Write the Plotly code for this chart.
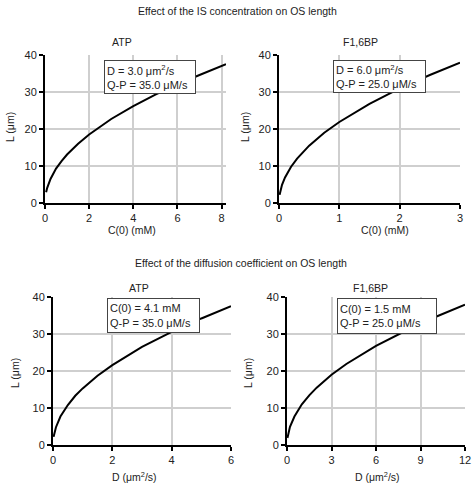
import plotly.graph_objects as go

W, H = 475, 486

# values
atp_c = [0.05, 0.1, 0.25, 0.5, 0.75, 1, 1.5, 2, 3, 4, 5, 6, 7, 8.2]
atp_c_len = [2.9, 4.1, 6.5, 9.3, 11.3, 13.1, 16.0, 18.5, 22.7, 26.2, 29.3, 32.1, 34.6, 37.5]

f16_c = [0.01, 0.02, 0.05, 0.1, 0.2, 0.3, 0.5, 0.75, 1, 1.5, 2, 2.5, 3]
f16_c_len = [2.2, 3.1, 4.9, 6.9, 9.8, 12.0, 15.5, 19.0, 21.9, 26.8, 31.0, 34.6, 37.9]

atp_d = [0.02, 0.05, 0.1, 0.25, 0.5, 0.75, 1, 1.5, 2, 3, 4, 5, 6]
atp_d_len = [2.2, 3.4, 4.8, 7.7, 10.8, 13.3, 15.3, 18.7, 21.6, 26.5, 30.6, 34.2, 37.5]

f16_d = [0.03, 0.1, 0.2, 0.5, 1, 1.5, 2, 3, 4, 6, 8, 9, 10, 12]
f16_d_len = [1.9, 3.5, 4.9, 7.7, 11.0, 13.4, 15.5, 19.0, 21.9, 26.8, 31.0, 32.9, 34.6, 37.9]

panels = [
    # x, y, xmax, xticks, px domain x, px domain y
    (atp_c, atp_c_len, 8.2, [0, 2, 4, 6, 8], (45, 226), (55, 203)),
    (f16_c, f16_c_len, 3, [0, 1, 2, 3], (279, 460), (55, 203)),
    (atp_d, atp_d_len, 6, [0, 2, 4, 6], (53, 231), (297, 445)),
    (f16_d, f16_d_len, 12, [0, 3, 6, 9, 12], (287, 465), (297, 445)),
]

FONT = "Liberation Sans, Arial, sans-serif"


def px(x):
    return x / W


def py(y):
    return 1 - y / H


fig = go.Figure()
layout = {}

for i, (xs, ys, xmax, ticks, dx, dy) in enumerate(panels, start=1):
    sfx = "" if i == 1 else str(i)
    fig.add_trace(go.Scatter(
        x=xs, y=ys, mode="lines",
        line=dict(color="black", width=2),
        xaxis=f"x{sfx}", yaxis=f"y{sfx}",
        showlegend=False, hoverinfo="skip",
    ))
    common = dict(
        showline=True, linecolor="black", linewidth=2,
        ticks="outside", ticklen=4, tickwidth=2, tickcolor="black",
        showgrid=True, gridcolor="#cfcfcf", gridwidth=1.5,
        zeroline=False, automargin=False,
        tickfont=dict(family=FONT, size=11, color="#222"),
    )
    layout[f"xaxis{sfx}"] = dict(
        domain=[px(dx[0]), px(dx[1])], range=[0, xmax],
        tickvals=ticks, anchor=f"y{sfx}", **common,
    )
    layout[f"yaxis{sfx}"] = dict(
        domain=[py(dy[1]), py(dy[0])], range=[0, 40],
        tickvals=[0, 10, 20, 30, 40], anchor=f"x{sfx}", **common,
    )

fig.update_layout(**layout)

texts = [
    ("Effect of the IS concentration on OS length", 237, 11, 0),
    ("Effect of the diffusion coefficient on OS length", 241, 263, 0),
    ("ATP", 122, 42, 0),
    ("F1,6BP", 360, 42, 0),
    ("ATP", 139, 288, 0),
    ("F1,6BP", 370, 288, 0),
    ("C(0) (mM)", 132, 230, 0),
    ("C(0) (mM)", 385, 230, 0),
    ("D (μm<sup>2</sup>/s)", 134, 476, 0),
    ("D (μm<sup>2</sup>/s)", 377, 476, 0),
    ("L (μm)", 10, 127, -90),
    ("L (μm)", 245, 127, -90),
    ("L (μm)", 15, 373, -90),
    ("L (μm)", 248, 373, -90),
]
for t, x, y, ang in texts:
    fig.add_annotation(
        x=px(x), y=py(y), xref="paper", yref="paper", text=t,
        showarrow=False, textangle=ang, xanchor="center", yanchor="middle",
        font=dict(family=FONT, size=10.5, color="#222"),
    )

boxes = [
    ("D = 3.0 μm<sup>2</sup>/s<br>Q-P = 35.0 μM/s", 104, 60, 98, 34),
    ("D = 6.0 μm<sup>2</sup>/s<br>Q-P = 25.0 μM/s", 333, 60, 99, 33),
    ("C(0) = 4.1 mM<br>Q-P = 35.0 μM/s", 107, 298, 99, 35),
    ("C(0) = 1.5 mM<br>Q-P = 25.0 μM/s", 337, 298, 106, 36),
]
for t, x, y, w, h in boxes:
    fig.add_annotation(
        x=px(x), y=py(y), xref="paper", yref="paper", text=t,
        showarrow=False, xanchor="left", yanchor="top", align="left",
        width=w - 12, height=h - 6, borderpad=2,
        bgcolor="white", bordercolor="#444", borderwidth=1,
        font=dict(family=FONT, size=11, color="#222"),
    )

fig.update_layout(
    width=W, height=H,
    margin=dict(l=0, r=0, t=0, b=0),
    paper_bgcolor="white", plot_bgcolor="white",
)

# drop the browser's default page margin so the figure fills the window
fig.write_html(
    "out.html",
    config={"displayModeBar": False},
    post_script="document.body.style.margin='0';document.body.style.overflow='hidden';",
)
